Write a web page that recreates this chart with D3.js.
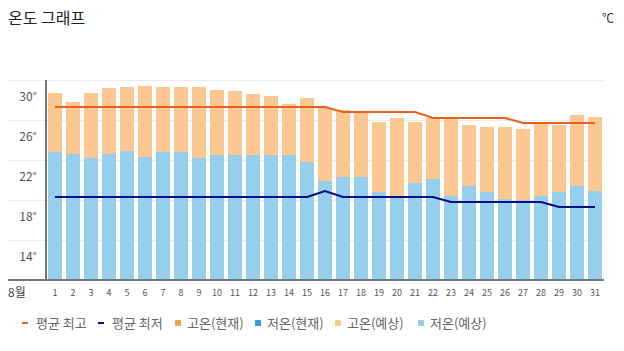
<!DOCTYPE html>
<html>
<head>
<meta charset="utf-8">
<script src="https://cdn.jsdelivr.net/npm/d3@7"></script>
<style>
  body { margin: 0; background: #fff; }
  text { font-family: "Noto Sans CJK KR", "Noto Sans", sans-serif; }
</style>
</head>
<body>
<div id="chart"></div>
<script>
// 8월 일별 온도 (예상)
var days = d3.range(1, 32);
var highs = [30.7, 29.8, 30.7, 31.2, 31.3, 31.4, 31.3, 31.3, 31.3, 31.0, 30.9, 30.6, 30.4, 29.6, 30.2,
             29.2, 29.0, 28.8, 27.8, 28.2, 27.8, 28.2, 28.1, 27.5, 27.3, 27.3, 27.1, 27.7, 27.5, 28.5, 28.3];
var lows = [24.8, 24.6, 24.2, 24.6, 24.9, 24.3, 24.8, 24.8, 24.2, 24.5, 24.5, 24.5, 24.5, 24.5, 23.8,
            21.9, 22.3, 22.3, 20.8, 20.2, 21.7, 22.1, 20.4, 21.4, 20.8, 20.1, 20.0, 20.4, 20.8, 21.4, 20.9];
var avgMax = [29.3, 29.3, 29.3, 29.3, 29.3, 29.3, 29.3, 29.3, 29.3, 29.3, 29.3, 29.3, 29.3, 29.3, 29.3,
              29.3, 28.8, 28.8, 28.8, 28.8, 28.8, 28.2, 28.2, 28.2, 28.2, 28.2, 27.7, 27.7, 27.7, 27.7, 27.7];
var avgMin = [20.3, 20.3, 20.3, 20.3, 20.3, 20.3, 20.3, 20.3, 20.3, 20.3, 20.3, 20.3, 20.3, 20.3, 20.3,
              20.9, 20.3, 20.3, 20.3, 20.3, 20.3, 20.3, 19.8, 19.8, 19.8, 19.8, 19.8, 19.8, 19.3, 19.3, 19.3];
var yTicks = [30, 26, 22, 18, 14];
var gridVals = [32, 28, 24, 20, 16];
var legendItems = [
    { label: "평균 최고", type: "line", color: "#e8601c" },
    { label: "평균 최저", type: "line", color: "#0b0b8a" },
    { label: "고온(현재)", type: "rect", color: "#f7a24a" },
    { label: "저온(현재)", type: "rect", color: "#3a9ad9" },
    { label: "고온(예상)", type: "rect", color: "#fbc891" },
    { label: "저온(예상)", type: "rect", color: "#95cfec" }
];
var legendX = [22, 98, 175, 255, 335, 418];

var W = 624, H = 351;
var svg = d3.select("#chart").append("svg")
    .attr("width", W)
    .attr("height", H);

var plot = { left: 46, right: 604, top: 80, bottom: 280 };

var x = d3.scaleBand()
    .domain(days)
    .range([plot.left, plot.right])
    .paddingInner(0.22)
    .paddingOuter(0.11);

var y = d3.scaleLinear()
    .domain([12, 32])
    .range([plot.bottom, plot.top]);

// title
svg.append("text")
    .attr("x", 8).attr("y", 24)
    .attr("font-size", 16).attr("fill", "#222")
    .text("온도 그래프");
svg.append("text")
    .attr("x", 614).attr("y", 23)
    .attr("text-anchor", "end")
    .attr("font-size", 12).attr("fill", "#333")
    .text("℃");

// grid
svg.append("g").selectAll("line")
    .data(gridVals)
    .enter().append("line")
    .attr("x1", 8).attr("x2", plot.right)
    .attr("y1", function(d){ return y(d) + 0.5; })
    .attr("y2", function(d){ return y(d) + 0.5; })
    .attr("stroke", "#ececec")
    .attr("stroke-width", 1);

// y labels
svg.append("g").selectAll("text")
    .data(yTicks)
    .enter().append("text")
    .attr("x", 37)
    .attr("y", function(d){ return y(d) + 1; })
    .attr("text-anchor", "end")
    .attr("font-size", 12)
    .attr("fill", "#555")
    .text(function(d){ return d + "°"; });

// bars: 고온 (low -> high), 저온 (base -> low)
var bars = svg.append("g");
bars.selectAll(".hi")
    .data(days)
    .enter().append("rect")
    .attr("class", "hi")
    .attr("x", function(d){ return x(d); })
    .attr("width", x.bandwidth())
    .attr("y", function(d, i){ return y(highs[i]); })
    .attr("height", function(d, i){ return y(lows[i]) - y(highs[i]); })
    .attr("fill", legendItems[4].color);
bars.selectAll(".lo")
    .data(days)
    .enter().append("rect")
    .attr("class", "lo")
    .attr("x", function(d){ return x(d); })
    .attr("width", x.bandwidth())
    .attr("y", function(d, i){ return y(lows[i]); })
    .attr("height", function(d, i){ return plot.bottom - y(lows[i]); })
    .attr("fill", legendItems[5].color);

// average lines
var cx = function(d){ return x(d) + x.bandwidth() / 2; };
var lineMax = d3.line().x(function(d){ return cx(d); }).y(function(d, i){ return y(avgMax[i]); });
var lineMin = d3.line().x(function(d){ return cx(d); }).y(function(d, i){ return y(avgMin[i]); });
svg.append("path")
    .datum(days)
    .attr("d", lineMax)
    .attr("fill", "none")
    .attr("stroke", legendItems[0].color)
    .attr("stroke-width", 2);
svg.append("path")
    .datum(days)
    .attr("d", lineMin)
    .attr("fill", "none")
    .attr("stroke", legendItems[1].color)
    .attr("stroke-width", 2);

// axes lines
svg.append("line")
    .attr("x1", plot.left).attr("x2", plot.left)
    .attr("y1", plot.top).attr("y2", plot.bottom)
    .attr("stroke", "#777").attr("stroke-width", 2);
svg.append("line")
    .attr("x1", 8).attr("x2", plot.right)
    .attr("y1", plot.bottom).attr("y2", plot.bottom)
    .attr("stroke", "#777").attr("stroke-width", 2);

// x labels
svg.append("text")
    .attr("x", 8).attr("y", 297)
    .attr("font-size", 12).attr("fill", "#444")
    .text("8월");
svg.append("g").selectAll("text")
    .data(days)
    .enter().append("text")
    .attr("x", function(d){ return cx(d); })
    .attr("y", 296)
    .attr("text-anchor", "middle")
    .attr("font-size", 9)
    .attr("fill", "#555")
    .text(function(d){ return d; });

// legend
var lg = svg.append("g").selectAll("g")
    .data(legendItems)
    .enter().append("g")
    .attr("transform", function(d, i){ return "translate(" + legendX[i] + ",323)"; });
lg.each(function(d){
    var g = d3.select(this);
    if (d.type == "line") {
        g.append("rect").attr("x", 0).attr("y", -1).attr("width", 6).attr("height", 2).attr("fill", d.color);
        g.append("text").attr("x", 14).attr("y", 5).attr("font-size", 13).attr("fill", "#666").text(d.label);
    } else {
        g.append("rect").attr("x", 0).attr("y", -3).attr("width", 6).attr("height", 6).attr("fill", d.color);
        g.append("text").attr("x", 12).attr("y", 5).attr("font-size", 13).attr("fill", "#666").text(d.label);
    }
});
</script>
</body>
</html>
